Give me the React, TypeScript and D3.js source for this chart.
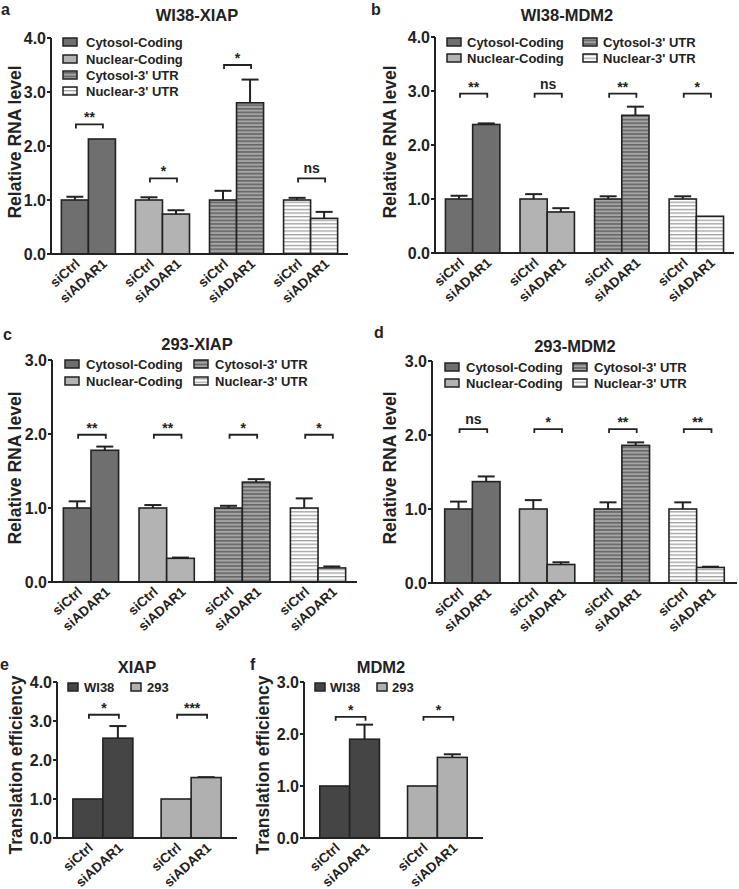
import React from 'react';
import * as d3 from 'd3';

// shared categories
const conditions = ['siCtrl', 'siADAR1'];
const rnaSeries = ['Cytosol-Coding', 'Nuclear-Coding', "Cytosol-3' UTR", "Nuclear-3' UTR"];
const cellSeries = ['WI38', '293'];

// a: WI38-XIAP
const wi38XiapMean = [[1.0, 2.13], [1.0, 0.74], [1.0, 2.8], [1.0, 0.66]];
const wi38XiapSem = [[0.06, 0.0], [0.05, 0.07], [0.17, 0.43], [0.04, 0.12]];
const wi38XiapSig = ['**', '*', '*', 'ns'];
const wi38XiapSigAt = [2.4, 1.4, 3.5, 1.4];

// b: WI38-MDM2
const wi38Mdm2Mean = [[1.0, 2.38], [1.0, 0.76], [1.0, 2.55], [1.0, 0.68]];
const wi38Mdm2Sem = [[0.06, 0.02], [0.09, 0.07], [0.05, 0.16], [0.05, 0.0]];
const wi38Mdm2Sig = ['**', 'ns', '**', '*'];
const wi38Mdm2SigAt = [2.95, 2.95, 2.95, 2.95];

// c: 293-XIAP
const h293XiapMean = [[1.0, 1.78], [1.0, 0.32], [1.0, 1.35], [1.0, 0.19]];
const h293XiapSem = [[0.09, 0.05], [0.04, 0.01], [0.03, 0.04], [0.13, 0.02]];
const h293XiapSig = ['**', '**', '*', '*'];
const h293XiapSigAt = [1.99, 1.99, 1.99, 1.99];

// d: 293-MDM2
const h293Mdm2Mean = [[1.0, 1.37], [1.0, 0.25], [1.0, 1.86], [1.0, 0.21]];
const h293Mdm2Sem = [[0.1, 0.07], [0.12, 0.03], [0.09, 0.04], [0.09, 0.01]];
const h293Mdm2Sig = ['ns', '*', '**', '**'];
const h293Mdm2SigAt = [2.08, 2.08, 2.08, 2.08];

// e: XIAP translation efficiency
const xiapTeMean = [[1.0, 2.56], [1.0, 1.55]];
const xiapTeSem = [[0.0, 0.31], [0.0, 0.01]];
const xiapTeSig = ['*', '***'];
const xiapTeSigAt = [3.16, 3.16];

// f: MDM2 translation efficiency
const mdm2TeMean = [[1.0, 1.9], [1.0, 1.55]];
const mdm2TeSem = [[0.0, 0.28], [0.0, 0.06]];
const mdm2TeSig = ['*', '*'];
const mdm2TeSigAt = [2.33, 2.33];

const FONT = '"Liberation Sans", Arial, Helvetica, sans-serif';
const INK = '#222';

const rnaFills = ['#6f6f6f', '#b3b3b3', 'url(#stripeDark)', 'url(#stripeLight)'];
const cellFills = ['#454545', '#b0b0b0'];

type Lay = {
  letter: string; letterX: number; letterY: number;
  titleX: number; titleY: number;
  x0: number; x1: number; yBase: number; yTop: number;
  padIn: number; padOut: number;
  yLabelX: number; yLabelY: number;
  legend: [number, number][]; // swatch x, row y per series
  legendDx: number;
  swatch: [number, number];
};

function Panel(props: {
  lay: Lay; title: string; yLabel: string; yMax: number; series: string[]; fills: string[];
  means: number[][]; sems: number[][]; sig: string[]; sigAt: number[];
}) {
  const { lay, title, yLabel, yMax, series, fills, means, sems, sig, sigAt } = props;
  const y = d3.scaleLinear().domain([0, yMax]).range([lay.yBase, lay.yTop]);
  const gx = d3.scaleBand<number>().domain(d3.range(means.length))
    .range([lay.x0, lay.x1]).paddingInner(lay.padIn).paddingOuter(lay.padOut);
  const bx = d3.scaleBand<number>().domain([0, 1]).range([0, gx.bandwidth()]);
  const w = bx.bandwidth();
  const ticks = d3.range(0, yMax + 0.001, 1);
  const fmt = d3.format('.1f');
  const [sw, sh] = lay.swatch;

  return (
    <g fontFamily={FONT} fontWeight="bold" fill={INK}>
      <text x={lay.letterX} y={lay.letterY} fontSize={16}>{lay.letter}</text>
      <text x={lay.titleX} y={lay.titleY} fontSize={16.5} textAnchor="middle">{title}</text>
      <text transform={`translate(${lay.yLabelX},${lay.yLabelY}) rotate(-90)`} fontSize={17.5} textAnchor="middle">{yLabel}</text>

      {/* bars */}
      {means.map((pair, g) => pair.map((v, c) => {
        const x = (gx(g) as number) + (bx(c) as number);
        const top = y(v);
        const e = sems[g][c];
        const cx = x + w / 2;
        return (
          <g key={`${g}-${c}`}>
            {e > 0 && (
              <g stroke={INK} strokeWidth={2}>
                <line x1={cx} x2={cx} y1={top} y2={y(v + e)} />
                <line x1={cx - 8.5} x2={cx + 8.5} y1={y(v + e)} y2={y(v + e)} />
              </g>
            )}
            <rect x={x} y={top} width={w} height={lay.yBase - top} fill={fills[g]} stroke={INK} strokeWidth={1.6} />
            <text transform={`translate(${cx + 6},${lay.yBase + 11}) rotate(-42)`} fontSize={13.5} textAnchor="end">
              {conditions[c]}
            </text>
          </g>
        );
      }))}

      {/* significance */}
      {sig.map((s, g) => {
        const xa = (gx(g) as number) + w / 2 + 1;
        const xb = (gx(g) as number) + w * 1.5 + 1;
        const yy = y(sigAt[g]);
        return (
          <g key={`s${g}`}>
            <path d={`M${xa},${yy + 4}V${yy}H${xb}V${yy + 4}`} fill="none" stroke={INK} strokeWidth={1.8} />
            <text x={(xa + xb) / 2} y={yy - (s === 'ns' ? 5 : 2)} fontSize={14} textAnchor="middle">{s}</text>
          </g>
        );
      })}

      {/* axes */}
      <g stroke={INK} strokeWidth={2}>
        <line x1={lay.x0} x2={lay.x0} y1={lay.yBase + 1} y2={lay.yTop} />
        <line x1={lay.x0} x2={lay.x1} y1={lay.yBase} y2={lay.yBase} />
        {ticks.map(t => <line key={t} x1={lay.x0 - 4} x2={lay.x0} y1={y(t)} y2={y(t)} />)}
      </g>
      {ticks.map(t => (
        <text key={`t${t}`} x={lay.x0 - 5} y={y(t) + 6} fontSize={16} textAnchor="end">{fmt(t)}</text>
      ))}

      {/* legend */}
      {series.map((s, i) => {
        const [lx, ly] = lay.legend[i];
        return (
          <g key={s}>
            <rect x={lx} y={ly - sh / 2} width={sw} height={sh} fill={fills[i]} stroke={INK} strokeWidth={1.5} />
            <text x={lx + lay.legendDx} y={ly + 4.5} fontSize={13}>{s}</text>
          </g>
        );
      })}
    </g>
  );
}

const layA: Lay = {
  letter: 'a', letterX: 1, letterY: 15, titleX: 197, titleY: 21,
  x0: 51, x1: 348, yBase: 254, yTop: 38, padIn: 0.27, padOut: 0.14,
  yLabelX: 21, yLabelY: 142,
  legend: [[63, 42], [63, 59], [63, 75], [63, 91]], legendDx: 23, swatch: [14, 8],
};
const layB: Lay = {
  letter: 'b', letterX: 371, letterY: 15, titleX: 567, titleY: 21,
  x0: 435, x1: 734, yBase: 253, yTop: 37, padIn: 0.27, padOut: 0.14,
  yLabelX: 396, yLabelY: 142,
  legend: [[447, 42], [447, 58], [583, 42], [583, 58]], legendDx: 20, swatch: [14, 8],
};
const layC: Lay = {
  letter: 'c', letterX: 3, letterY: 340, titleX: 197, titleY: 350,
  x0: 52, x1: 357, yBase: 582, yTop: 360, padIn: 0.27, padOut: 0.15,
  yLabelX: 21, yLabelY: 468,
  legend: [[65, 364], [65, 381], [194, 364], [194, 381]], legendDx: 21, swatch: [14, 8],
};
const layD: Lay = {
  letter: 'd', letterX: 374, letterY: 338, titleX: 575, titleY: 352,
  x0: 432, x1: 737, yBase: 583, yTop: 361, padIn: 0.26, padOut: 0.17,
  yLabelX: 396, yLabelY: 468,
  legend: [[445, 367], [445, 383], [573, 367], [573, 383]], legendDx: 21, swatch: [14, 8],
};
const layE: Lay = {
  letter: 'e', letterX: 0, letterY: 670, titleX: 137, titleY: 673,
  x0: 57, x1: 237, yBase: 838, yTop: 682, padIn: 0.32, padOut: 0.18,
  yLabelX: 22, yLabelY: 765,
  legend: [[68, 687], [131, 687]], legendDx: 16, swatch: [10, 8],
};
const layF: Lay = {
  letter: 'f', letterX: 250, letterY: 670, titleX: 381, titleY: 673,
  x0: 304, x1: 483, yBase: 838, yTop: 682, padIn: 0.32, padOut: 0.18,
  yLabelX: 269, yLabelY: 765,
  legend: [[315, 687], [377, 687]], legendDx: 15, swatch: [10, 8],
};

export default function App() {
  return (
    <svg width={739} height={889} style={{ position: 'absolute', left: 0, top: 0, background: '#fff' }}>
      <defs>
        <pattern id="stripeDark" patternUnits="userSpaceOnUse" width={6} height={3.6}>
          <rect width={6} height={3.6} fill="#a4a4a4" />
          <rect width={6} height={1.6} fill="#666" />
        </pattern>
        <pattern id="stripeLight" patternUnits="userSpaceOnUse" width={6} height={3.6}>
          <rect width={6} height={3.6} fill="#fff" />
          <rect width={6} height={1.3} fill="#a0a0a0" />
        </pattern>
      </defs>
      <Panel lay={layA} title="WI38-XIAP" yLabel="Relative RNA level" yMax={4} series={rnaSeries} fills={rnaFills}
        means={wi38XiapMean} sems={wi38XiapSem} sig={wi38XiapSig} sigAt={wi38XiapSigAt} />
      <Panel lay={layB} title="WI38-MDM2" yLabel="Relative RNA level" yMax={4} series={rnaSeries} fills={rnaFills}
        means={wi38Mdm2Mean} sems={wi38Mdm2Sem} sig={wi38Mdm2Sig} sigAt={wi38Mdm2SigAt} />
      <Panel lay={layC} title="293-XIAP" yLabel="Relative RNA level" yMax={3} series={rnaSeries} fills={rnaFills}
        means={h293XiapMean} sems={h293XiapSem} sig={h293XiapSig} sigAt={h293XiapSigAt} />
      <Panel lay={layD} title="293-MDM2" yLabel="Relative RNA level" yMax={3} series={rnaSeries} fills={rnaFills}
        means={h293Mdm2Mean} sems={h293Mdm2Sem} sig={h293Mdm2Sig} sigAt={h293Mdm2SigAt} />
      <Panel lay={layE} title="XIAP" yLabel="Translation efficiency" yMax={4} series={cellSeries} fills={cellFills}
        means={xiapTeMean} sems={xiapTeSem} sig={xiapTeSig} sigAt={xiapTeSigAt} />
      <Panel lay={layF} title="MDM2" yLabel="Translation efficiency" yMax={3} series={cellSeries} fills={cellFills}
        means={mdm2TeMean} sems={mdm2TeSem} sig={mdm2TeSig} sigAt={mdm2TeSigAt} />
    </svg>
  );
}
